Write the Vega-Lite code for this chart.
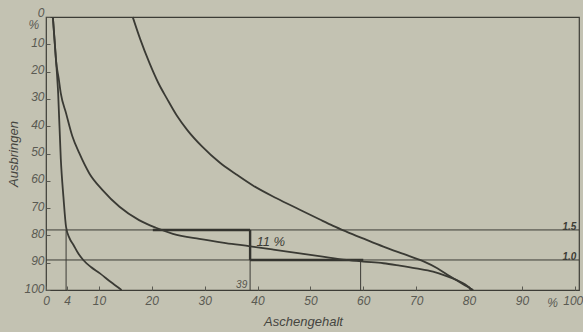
{
  "$schema": "https://vega.github.io/schema/vega-lite/v6.json",
  "width": 533,
  "height": 273,
  "autosize": "none",
  "padding": {"left": 46, "top": 17, "right": 4, "bottom": 42},
  "background": "#c3c2b2",
  "config": {
    "view": {"stroke": "#3c3c36", "strokeWidth": 1.2},
    "axis": {
      "domain": false,
      "grid": false,
      "labelOverlap": false,
      "labelFont": "Liberation Sans",
      "labelFontStyle": "italic",
      "labelFontSize": 12,
      "labelColor": "#5a5a52",
      "tickColor": "#5a5a52",
      "tickSize": -4,
      "titleFont": "Liberation Sans",
      "titleFontStyle": "italic",
      "titleFontWeight": "normal",
      "titleFontSize": 13,
      "titleColor": "#45453f"
    }
  },
  "datasets": {
    "curves": [
      {"series": "A", "i": 1, "x": 1.3, "y": 0},
      {"series": "A", "i": 2, "x": 1.6, "y": 8},
      {"series": "A", "i": 3, "x": 1.9, "y": 16},
      {"series": "A", "i": 4, "x": 2.3, "y": 28},
      {"series": "A", "i": 5, "x": 2.8, "y": 52},
      {"series": "A", "i": 6, "x": 3.3, "y": 66},
      {"series": "A", "i": 7, "x": 3.8, "y": 77},
      {"series": "A", "i": 8, "x": 4.4, "y": 80.8},
      {"series": "A", "i": 9, "x": 5.2, "y": 83.5},
      {"series": "A", "i": 10, "x": 6.0, "y": 86.3},
      {"series": "A", "i": 11, "x": 7.05, "y": 89},
      {"series": "A", "i": 12, "x": 8.5, "y": 91.6},
      {"series": "A", "i": 13, "x": 10.2, "y": 93.9},
      {"series": "A", "i": 14, "x": 12.2, "y": 97},
      {"series": "A", "i": 15, "x": 14.3, "y": 100},
      {"series": "B", "i": 1, "x": 1.3, "y": 0},
      {"series": "B", "i": 2, "x": 1.6, "y": 8},
      {"series": "B", "i": 3, "x": 1.9, "y": 16},
      {"series": "B", "i": 4, "x": 2.4, "y": 22.5},
      {"series": "B", "i": 5, "x": 2.8, "y": 28},
      {"series": "B", "i": 6, "x": 3.8, "y": 35.3},
      {"series": "B", "i": 7, "x": 5.0, "y": 43.8},
      {"series": "B", "i": 8, "x": 6.3, "y": 49.9},
      {"series": "B", "i": 9, "x": 8.2, "y": 57.3},
      {"series": "B", "i": 10, "x": 10.7, "y": 63.4},
      {"series": "B", "i": 11, "x": 13.9, "y": 69.5},
      {"series": "B", "i": 12, "x": 17.6, "y": 74.4},
      {"series": "B", "i": 13, "x": 20.8, "y": 77.2},
      {"series": "B", "i": 14, "x": 24, "y": 79.4},
      {"series": "B", "i": 15, "x": 29, "y": 81.3},
      {"series": "B", "i": 16, "x": 34, "y": 82.8},
      {"series": "B", "i": 17, "x": 38.6, "y": 84},
      {"series": "B", "i": 18, "x": 43, "y": 85.2},
      {"series": "B", "i": 19, "x": 48, "y": 86.6},
      {"series": "B", "i": 20, "x": 52, "y": 87.7},
      {"series": "B", "i": 21, "x": 56.8, "y": 89},
      {"series": "B", "i": 22, "x": 60, "y": 89.6},
      {"series": "B", "i": 23, "x": 63.8, "y": 90.2},
      {"series": "B", "i": 24, "x": 66.9, "y": 91.1},
      {"series": "B", "i": 25, "x": 70, "y": 92.1},
      {"series": "B", "i": 26, "x": 73.2, "y": 93.3},
      {"series": "B", "i": 27, "x": 75.5, "y": 94.7},
      {"series": "B", "i": 28, "x": 77.6, "y": 96.3},
      {"series": "B", "i": 29, "x": 79.3, "y": 98},
      {"series": "B", "i": 30, "x": 80.6, "y": 100},
      {"series": "C", "i": 1, "x": 16.4, "y": 0},
      {"series": "C", "i": 2, "x": 17.8, "y": 8},
      {"series": "C", "i": 3, "x": 19.6, "y": 17},
      {"series": "C", "i": 4, "x": 21.2, "y": 24},
      {"series": "C", "i": 5, "x": 22.9, "y": 30},
      {"series": "C", "i": 6, "x": 24.7, "y": 36},
      {"series": "C", "i": 7, "x": 26.8, "y": 41.6},
      {"series": "C", "i": 8, "x": 29.5, "y": 47.4},
      {"series": "C", "i": 9, "x": 32.9, "y": 53.4},
      {"series": "C", "i": 10, "x": 35.8, "y": 57.4},
      {"series": "C", "i": 11, "x": 39.2, "y": 61.8},
      {"series": "C", "i": 12, "x": 43.6, "y": 66.4},
      {"series": "C", "i": 13, "x": 48, "y": 70.6},
      {"series": "C", "i": 14, "x": 51.8, "y": 74.2},
      {"series": "C", "i": 15, "x": 54.3, "y": 76.5},
      {"series": "C", "i": 16, "x": 56.8, "y": 78.6},
      {"series": "C", "i": 17, "x": 60.2, "y": 81.3},
      {"series": "C", "i": 18, "x": 63.8, "y": 84.1},
      {"series": "C", "i": 19, "x": 67.6, "y": 86.8},
      {"series": "C", "i": 20, "x": 71.3, "y": 89.4},
      {"series": "C", "i": 21, "x": 74, "y": 92},
      {"series": "C", "i": 22, "x": 76.4, "y": 95},
      {"series": "C", "i": 23, "x": 78.8, "y": 97.8},
      {"series": "C", "i": 24, "x": 80.8, "y": 100}
    ],
    "rules": [
      {"kind": "thin", "x": 0, "x2": 100.8, "y": 78, "y2": 78},
      {"kind": "thin", "x": 0, "x2": 100.8, "y": 89, "y2": 89},
      {"kind": "thin", "x": 3.8, "x2": 3.8, "y": 78, "y2": 100},
      {"kind": "thin", "x": 38.6, "x2": 38.6, "y": 89, "y2": 100},
      {"kind": "thin", "x": 59.5, "x2": 59.5, "y": 89, "y2": 100},
      {"kind": "thick", "x": 20.2, "x2": 38.6, "y": 78, "y2": 78},
      {"kind": "thick", "x": 38.6, "x2": 38.6, "y": 78, "y2": 89},
      {"kind": "thick", "x": 38.6, "x2": 60, "y": 89, "y2": 89}
    ],
    "notes": [
      {"kind": "big", "label": "11 %", "x": 39.8, "y": 82.4},
      {"kind": "small", "label": "39", "x": 37, "y": 98.2},
      {"kind": "right", "label": "1.5", "x": 100.3, "y": 76.9},
      {"kind": "right", "label": "1.0", "x": 100.3, "y": 87.9},
      {"kind": "axis", "label": "%", "x": 95.8, "y": 104.8},
      {"kind": "axis", "label": "%", "x": -2.3, "y": 3.0}
    ]
  },
  "encoding": {
    "x": {"field": "x", "type": "quantitative", "scale": {"domain": [0, 100.8], "nice": false},
      "axis": {"values": [0, 4, 10, 20, 30, 40, 50, 60, 70, 80, 90, 100], "labelOverlap": false, "labelPadding": 9, "title": "Aschengehalt", "titlePadding": 9, "titleX": 257,
        "labelAlign": {"condition": {"test": "datum.value == 100", "value": "right"}, "value": "center"},
        "labelOffset": {"condition": {"test": "datum.value == 100", "value": 8}, "value": 0}}},
    "y": {"field": "y", "type": "quantitative", "scale": {"domain": [0, 100], "nice": false, "reverse": true},
      "axis": {"values": [0, 10, 20, 30, 40, 50, 60, 70, 80, 90, 100], "tickCount": 11, "labelOverlap": false, "labelPadding": 6, "title": "Ausbringen", "titlePadding": 3,
        "labelOffset": {"condition": {"test": "datum.value == 0", "value": -5}, "value": -2}}}
  },
  "layer": [
    {
      "data": {"name": "rules"},
      "transform": [{"filter": "datum.kind == 'thin'"}],
      "mark": {"type": "rule", "color": "#3c3c36", "strokeWidth": 1},
      "encoding": {"x2": {"field": "x2"}, "y2": {"field": "y2"}}
    },
    {
      "data": {"name": "rules"},
      "transform": [{"filter": "datum.kind == 'thick'"}],
      "mark": {"type": "rule", "color": "#34342f", "strokeWidth": 2.4},
      "encoding": {"x2": {"field": "x2"}, "y2": {"field": "y2"}}
    },
    {
      "data": {"name": "curves"},
      "mark": {"type": "line", "color": "#3a3a34", "strokeWidth": 1.8, "interpolate": "monotone"},
      "encoding": {
        "detail": {"field": "series"},
        "order": {"field": "i", "type": "quantitative"}
      }
    },
    {
      "data": {"name": "notes"},
      "transform": [{"filter": "datum.kind == 'big'"}],
      "mark": {"type": "text", "align": "left", "baseline": "middle", "font": "Liberation Sans", "fontStyle": "italic", "fontSize": 13, "color": "#3c3c36", "clip": false},
      "encoding": {"text": {"field": "label"}}
    },
    {
      "data": {"name": "notes"},
      "transform": [{"filter": "datum.kind == 'small'"}],
      "mark": {"type": "text", "align": "center", "baseline": "middle", "font": "Liberation Sans", "fontStyle": "italic", "fontSize": 10, "color": "#55554d", "clip": false},
      "encoding": {"text": {"field": "label"}}
    },
    {
      "data": {"name": "notes"},
      "transform": [{"filter": "datum.kind == 'right'"}],
      "mark": {"type": "text", "align": "right", "baseline": "middle", "font": "Liberation Sans", "fontStyle": "italic", "fontWeight": "bold", "fontSize": 10, "color": "#3c3c36", "clip": false},
      "encoding": {"text": {"field": "label"}}
    },
    {
      "data": {"name": "notes"},
      "transform": [{"filter": "datum.kind == 'axis'"}],
      "mark": {"type": "text", "align": "center", "baseline": "middle", "font": "Liberation Sans", "fontStyle": "italic", "fontSize": 12, "color": "#5a5a52", "clip": false},
      "encoding": {"text": {"field": "label"}}
    }
  ]
}
